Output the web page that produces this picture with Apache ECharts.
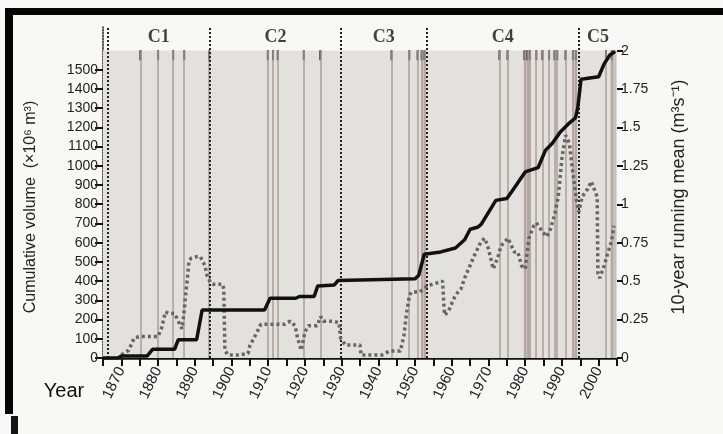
<!DOCTYPE html>
<html>
<head>
<meta charset="utf-8">
<script src="https://cdn.jsdelivr.net/npm/echarts@6/dist/echarts.min.js"></script>
<style>
  html, body { margin: 0; padding: 0; background: #f8f8f6; }
  #chart { width: 723px; height: 434px; }
</style>
</head>
<body>
<div id="chart"></div>
<script>
// cumulative volume (x10^6 m3), left axis
var cumYears = [1865, 1869, 1870, 1877, 1878.5, 1884.5, 1885.5, 1890.5, 1892, 1909, 1910.5, 1917.5, 1918.5, 1922.5, 1923.5, 1928, 1929, 1950, 1951, 1952.5, 1957, 1961, 1963.5, 1965, 1967, 1968, 1972, 1975, 1976.5, 1980, 1983.5, 1985.5, 1987.5, 1989.5, 1992, 1993.7, 1994.3, 1995.2, 2000, 2001.5, 2003, 2004.5];
var cumVolume = [0, 0, 10, 10, 45, 45, 95, 95, 250, 250, 311, 311, 320, 320, 375, 380, 403, 412, 430, 540, 552, 572, 615, 670, 680, 695, 820, 830, 870, 968, 990, 1080, 1120, 1175, 1222, 1250, 1300, 1450, 1463, 1530, 1575, 1595];

// 10-year running mean (m3 s-1), right axis
var meanYears = [1870, 1872, 1873.5, 1875, 1880, 1881, 1882, 1883, 1884.5, 1885.5, 1886.5, 1887, 1887.5, 1888, 1888.4, 1889, 1890.5, 1891.5, 1892.8, 1893.3, 1894.3, 1895, 1897.6, 1897.9, 1898.2, 1899, 1902, 1904.5, 1905, 1907, 1908, 1910, 1914.5, 1916, 1917.3, 1918, 1919, 1920, 1921, 1923.3, 1924.3, 1925, 1927.5, 1929.3, 1929.7, 1931, 1935, 1935.3, 1941, 1943, 1946, 1947, 1947.5, 1948, 1948.5, 1949, 1951.3, 1953.3, 1957.5, 1958, 1959, 1961, 1962.5, 1963.5, 1966, 1968, 1969, 1970, 1971.3, 1972.6, 1973.4, 1975.3, 1977, 1978, 1979, 1980, 1981, 1982.3, 1983, 1984.5, 1985.8, 1986.6, 1988, 1989, 1990, 1991, 1992, 1993, 1994, 1994.6, 1995.5, 1997, 1998, 1998.8, 1999.6, 1999.8, 2000.3, 2001.5, 2002.7, 2003.5, 2004.2];
var meanFlow = [0.02, 0.05, 0.13, 0.14, 0.14, 0.2, 0.3, 0.29, 0.29, 0.24, 0.19, 0.28, 0.41, 0.52, 0.63, 0.65, 0.66, 0.66, 0.6, 0.54, 0.49, 0.48, 0.48, 0.45, 0.05, 0.02, 0.02, 0.03, 0.08, 0.17, 0.22, 0.22, 0.22, 0.24, 0.21, 0.13, 0.05, 0.17, 0.21, 0.21, 0.27, 0.24, 0.24, 0.23, 0.13, 0.085, 0.085, 0.02, 0.02, 0.045, 0.045, 0.15, 0.26, 0.34, 0.41, 0.43, 0.43, 0.47, 0.5, 0.28, 0.3, 0.41, 0.45, 0.52, 0.66, 0.76, 0.78, 0.71, 0.58, 0.66, 0.73, 0.78, 0.69, 0.69, 0.6, 0.58, 0.78, 0.86, 0.88, 0.83, 0.79, 0.82, 0.93, 1.05, 1.3, 1.45, 1.4, 1.2, 1.02, 0.95, 1.05, 1.1, 1.15, 1.1, 1.05, 0.55, 0.52, 0.6, 0.7, 0.76, 0.86];

// flood events and shaded event clusters
var eventYears = [1875.2, 1880, 1884.1, 1887.1, 1893.9, 1909.9, 1911.3, 1912.6, 1919.7, 1924.2, 1943.6, 1948.4, 1950.7, 1951.8, 1952.6, 1973, 1975.2, 1979.8, 1980.6, 1981.3, 1983, 1984.7, 1986.5, 1988, 1988.7, 1991, 1993, 1993.8, 2002, 2003.6];
var eventBands = [[1951.6, 1953], [1979.6, 1981.5], [1992.8, 1994.2], [2003.2, 2004.8]];

// period boundaries and names
var periodBounds = [1866.2, 1894.2, 1929.8, 1953.2, 1994.6, 2005];
var periodNames = ['C1', 'C2', 'C3', 'C4', 'C5'];

// axis ticks
var xTicks = [1865, 1870, 1875, 1880, 1885, 1890, 1895, 1900, 1905, 1910, 1915, 1920, 1925, 1930, 1935, 1940, 1945, 1950, 1955, 1960, 1965, 1970, 1975, 1980, 1985, 1990, 1995, 2000, 2005];
var xLabels = [1870, 1880, 1890, 1900, 1910, 1920, 1930, 1940, 1950, 1960, 1970, 1980, 1990, 2000];
var leftTicks = [0, 100, 200, 300, 400, 500, 600, 700, 800, 900, 1000, 1100, 1200, 1300, 1400, 1500];
var rightTicks = [0, 0.25, 0.5, 0.75, 1, 1.25, 1.5, 1.75, 2];

var chart = echarts.init(document.getElementById('chart'));

var cumData = cumYears.map(function (y, i) { return [y, cumVolume[i]]; });
var meanData = meanYears.map(function (y, i) { return [y, meanFlow[i]]; });
var labelData = periodNames.map(function (n, i) {
    return { value: [(periodBounds[i] + periodBounds[i + 1]) / 2, 1670], name: n };
});

var font = 'Liberation Sans, Arial, sans-serif';
var plain = function (v) { return String(v); };

var option = {
    animation: false,
    backgroundColor: '#f8f8f6',
    grid: { left: 103, right: 106, top: 27, bottom: 76 },
    xAxis: {
        type: 'value',
        min: 1865,
        max: 2005,
        splitLine: { show: false },
        axisLine: { lineStyle: { color: '#111', width: 2.5 } },
        axisTick: { customValues: xTicks, length: 8, lineStyle: { color: '#111', width: 2 } },
        axisLabel: {
            customValues: xLabels, rotate: 64, margin: 10, formatter: plain,
            fontSize: 15, color: '#222', fontFamily: font
        }
    },
    yAxis: [{
        type: 'value',
        min: 0,
        max: 1722,
        splitLine: { show: false },
        axisLine: { show: true, lineStyle: { color: '#222', width: 1.5, type: 'dotted' } },
        axisTick: { customValues: leftTicks, length: 8, lineStyle: { color: '#111', width: 2 } },
        axisLabel: { customValues: leftTicks, formatter: plain, margin: 5, fontSize: 14, color: '#222', fontFamily: font }
    }, {
        type: 'value',
        position: 'right',
        min: 0,
        max: 2.155,
        splitLine: { show: false },
        axisLine: { show: false },
        axisTick: { show: true, customValues: rightTicks, length: 6, lineStyle: { color: '#111', width: 2 } },
        axisLabel: { customValues: rightTicks, formatter: plain, margin: 4, fontSize: 14, color: '#222', fontFamily: font }
    }],
    graphic: [
        { type: 'rect', shape: { x: 6, y: 8, width: 717, height: 7 }, style: { fill: '#050505' } },
        { type: 'rect', shape: { x: 5, y: 8, width: 8, height: 406 }, style: { fill: '#050505' } },
        { type: 'rect', shape: { x: 11, y: 416, width: 7, height: 18 }, style: { fill: '#151515' } },
        {
            type: 'text', x: 31, y: 207, rotation: Math.PI / 2,
            style: {
                text: 'Cumulative volume  (×10⁶ m³)', fill: '#222',
                font: '16px ' + font, textAlign: 'center', textVerticalAlign: 'middle'
            }
        },
        {
            type: 'text', x: 679, y: 197, rotation: Math.PI / 2,
            style: {
                text: '10-year running mean (m³s⁻¹)', fill: '#222',
                font: '18px ' + font, textAlign: 'center', textVerticalAlign: 'middle'
            }
        },
        {
            type: 'text', x: 64, y: 391,
            style: {
                text: 'Year', fill: '#111', font: '20px ' + font,
                textAlign: 'center', textVerticalAlign: 'middle'
            }
        }
    ],
    series: [{
        // shaded plot area, event lines and clusters
        type: 'line',
        data: [],
        z: 1,
        silent: true,
        markArea: {
            silent: true,
            data: [[{ coord: [1865, 0], itemStyle: { color: '#e3e1de' } }, { coord: [2005, 1600] }]].concat(
                eventBands.map(function (b) {
                    return [{ coord: [b[0], 0], itemStyle: { color: 'rgba(170,150,140,0.45)' } }, { coord: [b[1], 1600] }];
                }))
        },
        markLine: {
            silent: true,
            symbol: 'none',
            label: { show: false },
            lineStyle: { color: '#ad9f97', width: 1.5, type: 'solid' },
            data: eventYears.map(function (y) { return [{ coord: [y, 0] }, { coord: [y, 1600] }]; })
        }
    }, {
        // period boundaries
        type: 'line',
        data: [],
        z: 3,
        silent: true,
        markLine: {
            silent: true,
            symbol: 'none',
            label: { show: false },
            lineStyle: { color: '#222', width: 2, type: 'dotted' },
            data: periodBounds.slice(0, 5).map(function (y) { return { xAxis: y }; })
        }
    }, {
        // dark marks on top of the event lines
        type: 'scatter',
        z: 4,
        silent: true,
        symbol: 'rect',
        symbolSize: [2, 10],
        itemStyle: { color: '#222', opacity: 1 },
        data: eventYears.map(function (y) { return [y, 1575]; })
    }, {
        name: 'Cumulative volume',
        type: 'line',
        z: 6,
        showSymbol: false,
        data: cumData,
        lineStyle: { color: '#111', width: 3.5 }
    }, {
        name: '10-year running mean',
        type: 'line',
        yAxisIndex: 1,
        z: 5,
        showSymbol: false,
        data: meanData,
        lineStyle: { color: '#666', width: 3.5, type: [3, 3] }
    }, {
        // period names
        type: 'scatter',
        z: 7,
        silent: true,
        symbolSize: 0,
        data: labelData,
        label: {
            show: true,
            position: 'inside',
            formatter: '{b}',
            fontFamily: 'Liberation Serif, Times New Roman, serif',
            fontWeight: 'bold',
            fontSize: 18,
            color: '#111'
        }
    }]
};

chart.setOption(option);
</script>
</body>
</html>
